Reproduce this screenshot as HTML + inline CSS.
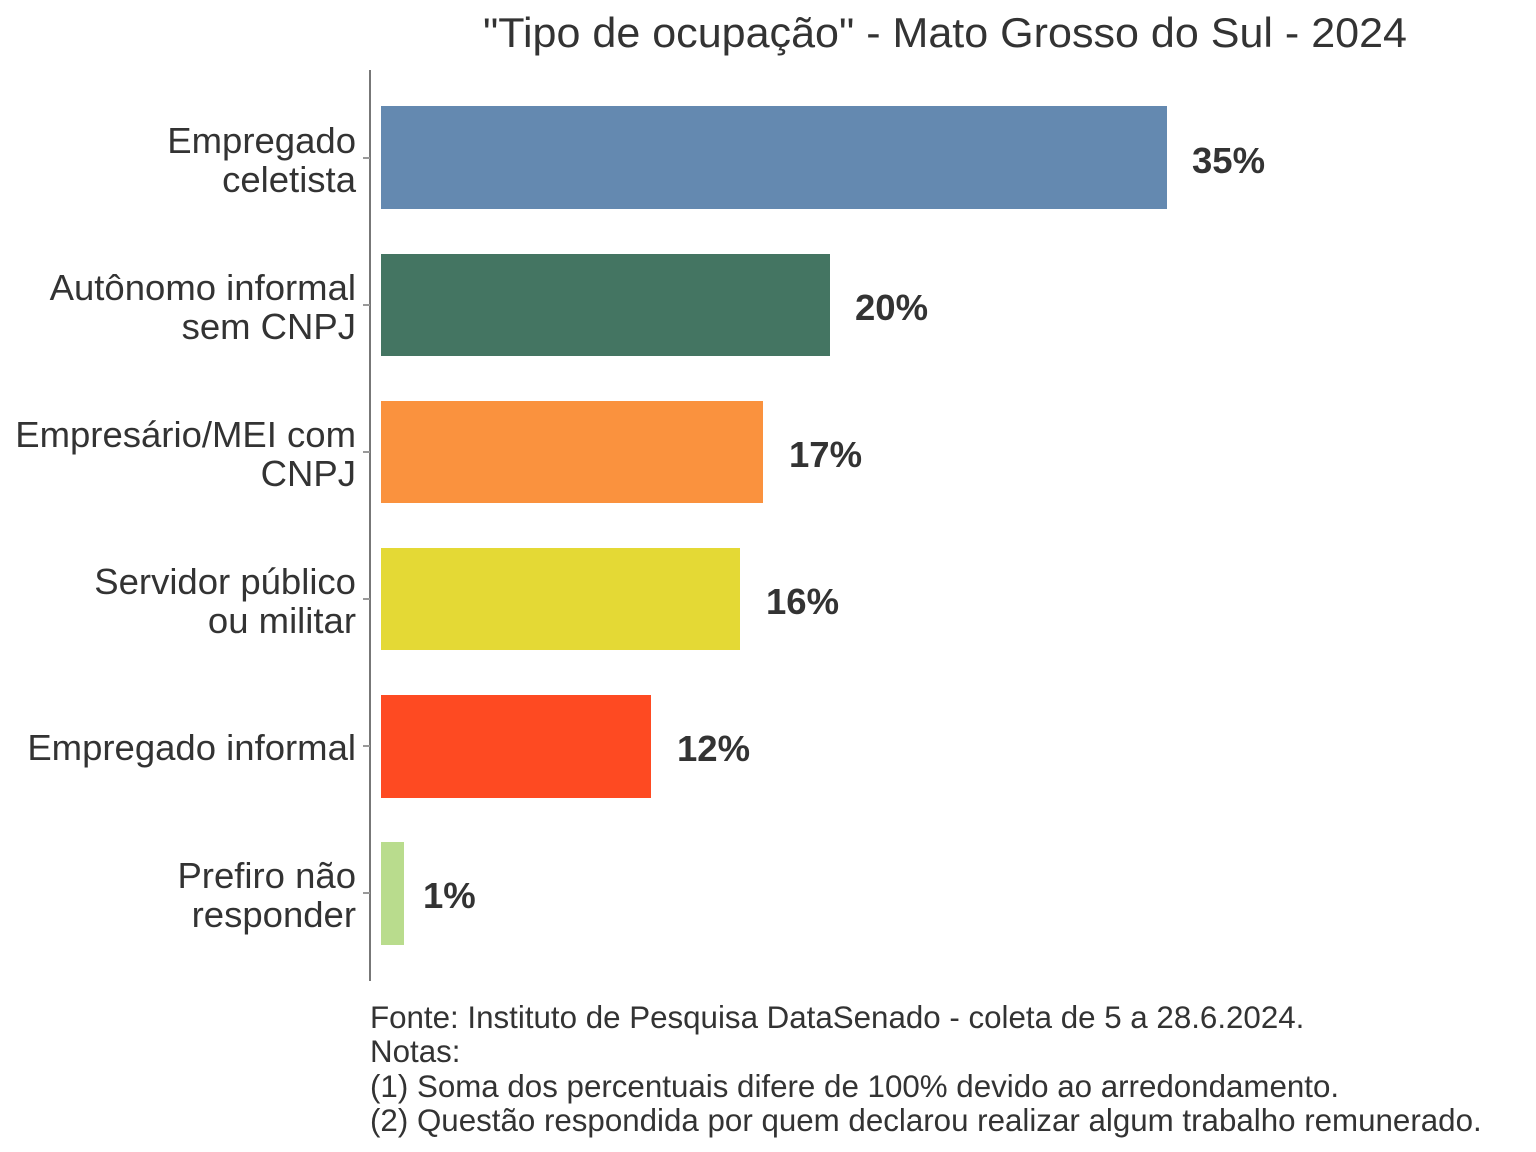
<!DOCTYPE html>
<html><head><meta charset="utf-8"><style>
html,body{margin:0;padding:0;background:#fff;}
svg{display:block;}
text{font-family:"Liberation Sans",Arial,sans-serif;fill:#333;}
</style></head><body>
<svg width="1536" height="1152" viewBox="0 0 1536 1152" xmlns="http://www.w3.org/2000/svg">
<text x="945" y="47" font-size="42" text-anchor="middle" textLength="924" lengthAdjust="spacingAndGlyphs">"Tipo de ocupação" - Mato Grosso do Sul - 2024</text>
<line x1="370" y1="70" x2="370" y2="981" stroke="#777" stroke-width="2"/>
<g stroke="#999" stroke-width="2">
<line x1="363" y1="158" x2="370" y2="158"/><line x1="363" y1="305" x2="370" y2="305"/>
<line x1="363" y1="452" x2="370" y2="452"/><line x1="363" y1="599" x2="370" y2="599"/>
<line x1="363" y1="746" x2="370" y2="746"/><line x1="363" y1="893" x2="370" y2="893"/>
</g>
<rect x="381" y="106" width="786" height="103" fill="#6489b0"/>
<rect x="381" y="254" width="449" height="102" fill="#447562"/>
<rect x="381" y="401" width="382" height="102" fill="#fa923e"/>
<rect x="381" y="548" width="359" height="102" fill="#e4d935"/>
<rect x="381" y="695" width="270" height="103" fill="#fe4a22"/>
<rect x="381" y="842" width="23" height="103" fill="#b9dc8d"/>
<g font-size="36.5" font-weight="bold">
<text x="1192" y="173">35%</text><text x="855" y="320">20%</text>
<text x="789" y="467">17%</text><text x="766" y="614">16%</text>
<text x="677" y="761">12%</text><text x="423" y="908">1%</text>
</g>
<g font-size="36.5" text-anchor="end">
<text x="356" y="153">Empregado</text><text x="356" y="192">celetista</text>
<text x="356" y="300">Autônomo informal</text><text x="356" y="339">sem CNPJ</text>
<text x="356" y="447">Empresário/MEI com</text><text x="356" y="486">CNPJ</text>
<text x="356" y="594">Servidor público</text><text x="356" y="633">ou militar</text>
<text x="356" y="760">Empregado informal</text>
<text x="356" y="888">Prefiro não</text><text x="356" y="927">responder</text>
</g>
<g font-size="31.3">
<text x="370" y="1028">Fonte: Instituto de Pesquisa DataSenado - coleta de 5 a 28.6.2024.</text>
<text x="370" y="1062">Notas:</text>
<text x="370" y="1097">(1) Soma dos percentuais difere de 100% devido ao arredondamento.</text>
<text x="370" y="1131">(2) Questão respondida por quem declarou realizar algum trabalho remunerado.</text>
</g>
</svg>
</body></html>
